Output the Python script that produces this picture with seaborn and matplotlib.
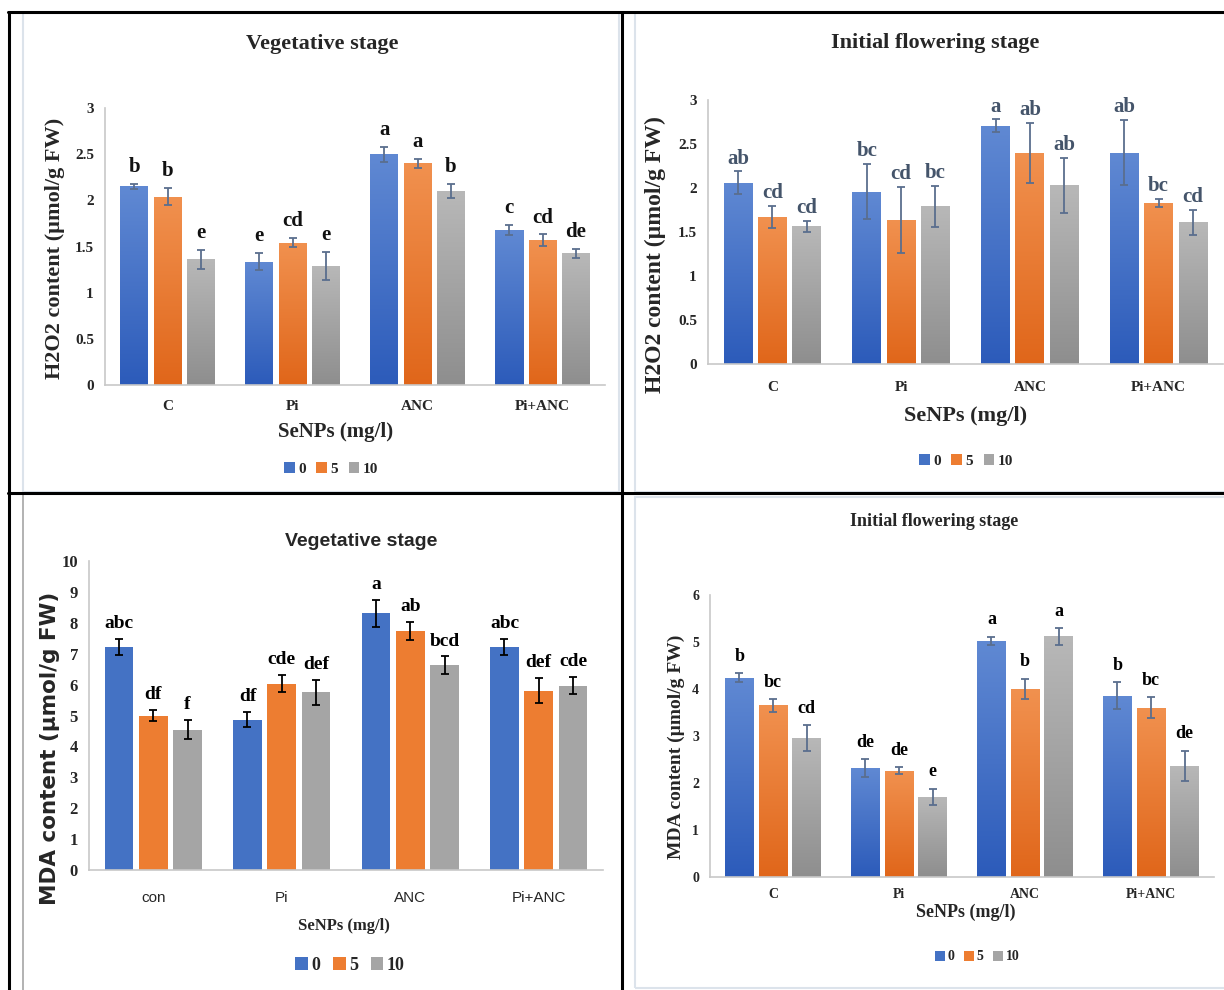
import matplotlib
matplotlib.use('Agg')
import matplotlib.pyplot as plt
import numpy as np
import pandas as pd
import seaborn as sns
from matplotlib import font_manager
from matplotlib.colors import LinearSegmentedColormap
from matplotlib.lines import Line2D
from matplotlib.patches import Patch, Rectangle

W, H = 1224, 990

doses = ['0', '5', '10']
treatments = ['C', 'Pi', 'ANC', 'Pi+ANC']
treatments_con = ['con', 'Pi', 'ANC', 'Pi+ANC']

# rows = SeNPs dose 0, 5, 10 ; columns = treatments
h2o2_veg = [[2.15, 1.335, 2.50, 1.675],
            [2.04, 1.54, 2.40, 1.57],
            [1.36, 1.29, 2.10, 1.425]]
h2o2_veg_err = [[0.03, 0.09, 0.08, 0.055],
                [0.09, 0.05, 0.045, 0.06],
                [0.10, 0.15, 0.08, 0.05]]
h2o2_veg_letters = [['b', 'e', 'a', 'c'],
                    ['b', 'cd', 'a', 'cd'],
                    ['e', 'e', 'b', 'de']]

h2o2_flw = [[2.06, 1.96, 2.71, 2.40],
            [1.67, 1.64, 2.40, 1.83],
            [1.565, 1.79, 2.03, 1.61]]
h2o2_flw_err = [[0.13, 0.31, 0.07, 0.37],
                [0.13, 0.375, 0.34, 0.045],
                [0.065, 0.23, 0.31, 0.14]]
h2o2_flw_letters = [['ab', 'bc', 'a', 'ab'],
                    ['cd', 'cd', 'ab', 'bc'],
                    ['cd', 'bc', 'ab', 'cd']]

mda_veg = [[7.215, 4.86, 8.31, 7.215],
           [4.99, 6.03, 7.73, 5.80],
           [4.54, 5.75, 6.62, 5.97]]
mda_veg_err = [[0.25, 0.24, 0.43, 0.27],
               [0.18, 0.28, 0.30, 0.40],
               [0.31, 0.40, 0.29, 0.28]]
mda_veg_letters = [['abc', 'df', 'a', 'abc'],
                   ['df', 'cde', 'ab', 'def'],
                   ['f', 'def', 'bcd', 'cde']]

mda_flw = [[4.24, 2.32, 5.02, 3.86],
           [3.65, 2.26, 4.00, 3.60],
           [2.96, 1.71, 5.12, 2.37]]
mda_flw_err = [[0.10, 0.19, 0.09, 0.29],
               [0.13, 0.075, 0.22, 0.22],
               [0.27, 0.17, 0.18, 0.32]]
mda_flw_letters = [['b', 'de', 'a', 'b'],
                   ['bc', 'de', 'b', 'bc'],
                   ['cd', 'e', 'a', 'de']]

colors = ['#4472C4', '#ED7D31', '#A5A5A5']
grad_top = ['#6089D3', '#F1914F', '#B8B8B8']
grad_bottom = ['#2C5BBA', '#E0661A', '#8E8E8E']

sns.set_style('white')
SERIF = 'Liberation Serif'
installed = {f.name for f in font_manager.fontManager.ttflist}
NARROW = 'Liberation Sans'
for cand in ['Liberation Sans Narrow', 'DejaVu Sans Condensed']:
    if cand in installed:
        NARROW = cand
        break
plt.rcParams['font.family'] = [SERIF, 'DejaVu Sans']


def fx(x):
    return x / W


def fy(y):
    return 1 - y / H


def draw_panel(fig, box, cats, values, errs, letters, ymax, ystep, s):
    l, t, r, b = box
    ax = fig.add_axes([fx(l), fy(b), (r - l) / W, (b - t) / H])
    df = pd.DataFrame({
        'treatment': [c for _ in doses for c in cats],
        'dose': [d for d in doses for _ in cats],
        'value': [v for row in values for v in row],
    })
    sns.barplot(data=df, x='treatment', y='value', hue='dose', order=cats,
                hue_order=doses, palette=colors, saturation=1, width=0.8, gap=0.16,
                errorbar=None, legend=False, ax=ax, edgecolor='none')

    bar_containers = list(ax.containers)
    for i, cont in enumerate(bar_containers):
        bars = list(cont.patches)
        xs = [bar.get_x() + bar.get_width() / 2 for bar in bars]
        if s['gradient']:
            cmap = LinearSegmentedColormap.from_list('g', [grad_bottom[i], grad_top[i]])
            grad = np.linspace(0, 1, 256).reshape(-1, 1)
            for bar in bars:
                x0 = bar.get_x()
                im = ax.imshow(grad, extent=[x0, x0 + bar.get_width(), 0, bar.get_height()],
                               origin='lower', cmap=cmap, aspect='auto', zorder=bar.get_zorder())
                im.set_clip_path(bar)
                bar.set_facecolor('none')
        ax.errorbar(xs, values[i], yerr=errs[i], fmt='none', ecolor=s['err_color'],
                    elinewidth=1.3, capsize=3, capthick=1.3, zorder=5)
        for x, v, e, lab in zip(xs, values[i], errs[i], letters[i]):
            ax.annotate(lab, (x, v + e), xytext=(0, s['letter_off']), textcoords='offset points',
                        ha='center', va='bottom', fontsize=s['letter_size'], fontweight='bold',
                        color=s['letter_color'], family=SERIF)

    ax.set_xlim(-0.5, len(cats) - 0.5)
    ax.set_ylim(0, ymax)
    ax.set_yticks(np.arange(0, ymax + ystep / 2, ystep))
    ax.set_yticklabels([f'{v:g}' for v in np.arange(0, ymax + ystep / 2, ystep)],
                       fontsize=s['tick_size'], fontweight='bold', family=SERIF)
    ax.set_xticks(range(len(cats)))
    ax.set_xticklabels(cats, fontsize=s['xtick_size'], fontweight=s['xtick_weight'],
                       family=s['xtick_family'])
    ax.tick_params(axis='y', length=4, color='#BFBFBF', width=1, pad=4, direction='out')
    ax.tick_params(axis='x', length=0, pad=s['xpad'])
    ax.set_xlabel('')
    ax.set_ylabel('')
    for side in ['top', 'right']:
        ax.spines[side].set_visible(False)
    for side in ['left', 'bottom']:
        ax.spines[side].set_color('#C8C8C8')
        ax.spines[side].set_linewidth(1.2)
    ax.set_facecolor('none')

    fig.text(fx(s['title_xy'][0]), fy(s['title_xy'][1]), s['title'], ha='center', va='center',
             fontsize=s['title_size'], fontweight='bold', family=s['title_family'])
    fig.text(fx(s['ylabel_xy'][0]), fy(s['ylabel_xy'][1]), s['ylabel'], ha='center', va='center',
             rotation=90, fontsize=s['ylabel_size'], fontweight='bold', family=s['ylabel_family'])
    fig.text(fx(s['xlabel_xy'][0]), fy(s['xlabel_xy'][1]), 'SeNPs (mg/l)', ha='center', va='center',
             fontsize=s['xlabel_size'], fontweight='bold', family=SERIF)
    handles = [Patch(facecolor=c, edgecolor='none') for c in colors]
    fig.legend(handles, doses, loc='center', bbox_to_anchor=(fx(s['legend_xy'][0]), fy(s['legend_xy'][1])),
               ncol=3, frameon=False, handlelength=0.7, handleheight=0.7, handletextpad=0.2,
               columnspacing=0.7, prop={'family': SERIF, 'weight': 'bold', 'size': s['legend_size']})
    return ax


fig = plt.figure(figsize=(W / 100, H / 100), dpi=100)
fig.patch.set_facecolor('white')

# panel frames
for rect in [(23, 13, 596, 479), (635, 13, 620, 479), (635, 497, 620, 491)]:
    x, y, w, h = rect
    fig.add_artist(Rectangle((fx(x), fy(y + h)), w / W, h / H, transform=fig.transFigure,
                             fill=False, edgecolor='#DCE3EB', lw=1.5))
fig.add_artist(Line2D([fx(23), fx(23)], [fy(495), fy(990)], transform=fig.transFigure,
                      color='#A6A6A6', lw=1.2))
for xs, ys in [([8, 1224], [12, 12]), ([9, 9], [12, 990]), ([622, 622], [12, 990]), ([8, 1224], [493, 493])]:
    fig.add_artist(Line2D([fx(v) for v in xs], [fy(v) for v in ys], transform=fig.transFigure,
                          color='black', lw=2.2))

draw_panel(fig, (105, 108, 605, 385), treatments, h2o2_veg, h2o2_veg_err, h2o2_veg_letters, 3, 0.5, {
    'gradient': True, 'err_color': '#5A6E8E', 'letter_color': '#111111', 'letter_size': 15,
    'letter_off': 5, 'tick_size': 11, 'xtick_size': 11, 'xtick_weight': 'bold', 'xtick_family': SERIF,
    'xpad': 11, 'title': 'Vegetative stage', 'title_xy': (322, 44), 'title_size': 16,
    'title_family': SERIF, 'ylabel': 'H2O2 content (µmol/g FW)', 'ylabel_xy': (55, 248),
    'ylabel_size': 16, 'ylabel_family': SERIF, 'xlabel_xy': (336, 432), 'xlabel_size': 15,
    'legend_xy': (331, 469), 'legend_size': 11})

draw_panel(fig, (708, 100, 1223, 364), treatments, h2o2_flw, h2o2_flw_err, h2o2_flw_letters, 3, 0.5, {
    'gradient': True, 'err_color': '#5A6E8E', 'letter_color': '#44546A', 'letter_size': 15,
    'letter_off': 2, 'tick_size': 11, 'xtick_size': 11, 'xtick_weight': 'bold', 'xtick_family': SERIF,
    'xpad': 12, 'title': 'Initial flowering stage', 'title_xy': (935, 43), 'title_size': 16,
    'title_family': SERIF, 'ylabel': 'H2O2 content (µmol/g FW)', 'ylabel_xy': (655, 255),
    'ylabel_size': 17, 'ylabel_family': SERIF, 'xlabel_xy': (966, 416), 'xlabel_size': 16,
    'legend_xy': (966, 461), 'legend_size': 11})

draw_panel(fig, (89, 561, 603, 870), treatments_con, mda_veg, mda_veg_err, mda_veg_letters, 10, 1, {
    'gradient': False, 'err_color': 'black', 'letter_color': 'black', 'letter_size': 14,
    'letter_off': 5, 'tick_size': 12, 'xtick_size': 11, 'xtick_weight': 'normal', 'xtick_family': NARROW,
    'xpad': 15, 'title': 'Vegetative stage', 'title_xy': (361, 542), 'title_size': 14,
    'title_family': NARROW, 'ylabel': 'MDA content (µmol/g FW)', 'ylabel_xy': (50, 748),
    'ylabel_size': 15.5, 'ylabel_family': 'DejaVu Sans', 'xlabel_xy': (344, 926), 'xlabel_size': 12,
    'legend_xy': (350, 965), 'legend_size': 13})

draw_panel(fig, (710, 595, 1214, 877), treatments, mda_flw, mda_flw_err, mda_flw_letters, 6, 1, {
    'gradient': True, 'err_color': '#5A6E8E', 'letter_color': 'black', 'letter_size': 13,
    'letter_off': 6, 'tick_size': 10, 'xtick_size': 10, 'xtick_weight': 'bold', 'xtick_family': SERIF,
    'xpad': 8, 'title': 'Initial flowering stage', 'title_xy': (934, 521), 'title_size': 13,
    'title_family': SERIF, 'ylabel': 'MDA content (µmol/g FW)', 'ylabel_xy': (676, 747),
    'ylabel_size': 14, 'ylabel_family': SERIF, 'xlabel_xy': (966, 912), 'xlabel_size': 13,
    'legend_xy': (977, 957), 'legend_size': 10})

fig.savefig('out.png', dpi=100)
